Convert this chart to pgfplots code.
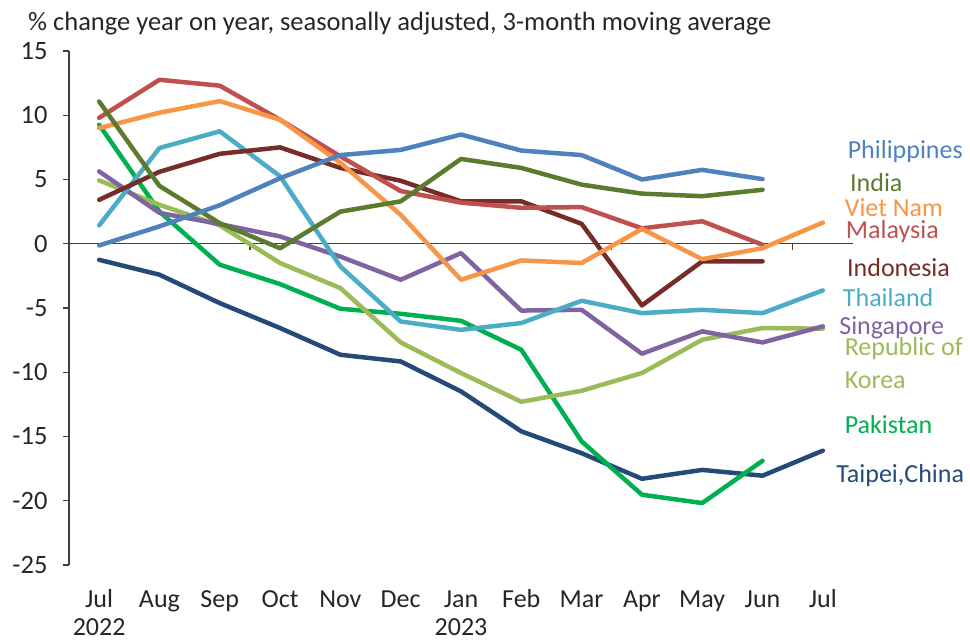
\documentclass[border=0pt]{standalone}
\usepackage{pgfplots}
\pgfplotsset{compat=1.18}
\usepackage{fontspec}
\setmainfont{Carlito}
\definecolor{cPhi}{HTML}{4F81BD}
\definecolor{cInd}{HTML}{5B7B2F}
\definecolor{cVie}{HTML}{F79646}
\definecolor{cMal}{HTML}{C0504D}
\definecolor{cIdn}{HTML}{772C2A}
\definecolor{cTha}{HTML}{4BACC6}
\definecolor{cSin}{HTML}{8064A2}
\definecolor{cKor}{HTML}{9BBB59}
\definecolor{cPak}{HTML}{00B050}
\definecolor{cTai}{HTML}{264A78}
\definecolor{txt}{HTML}{262626}
\newcommand{\fs}{\fontsize{26}{30}\selectfont}
\newcommand{\ft}{\fontsize{26.5}{30}\selectfont}
\begin{document}
\begin{tikzpicture}[x=1pt,y=1pt]
\useasboundingbox (0,0) rectangle (970,642);
\node[anchor=base west, inner sep=0pt, text=txt, font=\fontsize{26.5}{30}\selectfont] at (28,611) {\% change year on year, seasonally adjusted, 3-month moving average};
\begin{axis}[
  at={(69pt,77pt)}, anchor=south west,
  scale only axis, width=784pt, height=514pt,
  xmin=-0.5, xmax=12.5, ymin=-25, ymax=15,
  axis x line=middle, axis y line=left,
  axis line style={-, line width=1.2pt, draw=black!75},
  xtick={2.5,5.5,8.5,11.5}, xticklabels={},
  ytick={-25,-20,...,15},
  tick align=outside, major tick length=6pt,
  tick style={line width=1.2pt, draw=black!75},
  yticklabel style={font=\ft, text=txt, xshift=-12pt},
  /pgf/number format/assume math mode=true,
  clip=false,
  every axis plot/.append style={line width=4.5pt, line join=round, line cap=round, mark=none},
]
% Taipei,China
\addplot[cTai] coordinates {(0,-1.25)(1,-2.41)(2,-4.62)(3,-6.56)(4,-8.64)(5,-9.16)(6,-11.49)(7,-14.6)(8,-16.3)(9,-18.29)(10,-17.6)(11,-18.05)(12,-16.1)};
% Pakistan
\addplot[cPak] coordinates {(0,9.26)(1,2.5)(2,-1.63)(3,-3.14)(4,-5.06)(5,-5.45)(6,-6.0)(7,-8.25)(8,-15.38)(9,-19.53)(10,-20.18)(11,-16.89)};
% Republic of Korea
\addplot[cKor] coordinates {(0,4.93)(1,3.03)(2,1.43)(3,-1.5)(4,-3.45)(5,-7.68)(6,-10.06)(7,-12.3)(8,-11.44)(9,-10.06)(10,-7.47)(11,-6.56)(12,-6.61)};
% Singapore
\addplot[cSin] coordinates {(0,5.63)(1,2.4)(2,1.53)(3,0.57)(4,-1.0)(5,-2.8)(6,-0.73)(7,-5.2)(8,-5.14)(9,-8.56)(10,-6.82)(11,-7.68)(12,-6.43)};
% Thailand
\addplot[cTha] coordinates {(0,1.43)(1,7.45)(2,8.75)(3,5.25)(4,-1.77)(5,-6.05)(6,-6.7)(7,-6.17)(8,-4.44)(9,-5.4)(10,-5.14)(11,-5.4)(12,-3.63)};
% Indonesia
\addplot[cIdn] coordinates {(0,3.42)(1,5.6)(2,7.0)(3,7.5)(4,5.9)(5,4.9)(6,3.3)(7,3.3)(8,1.55)(9,-4.8)(10,-1.37)(11,-1.37)};
% Malaysia
\addplot[cMal] coordinates {(0,9.8)(1,12.76)(2,12.3)(3,9.65)(4,6.8)(5,4.1)(6,3.2)(7,2.8)(8,2.85)(9,1.2)(10,1.75)(11,-0.08)};
% Viet Nam
\addplot[cVie] coordinates {(0,9.0)(1,10.2)(2,11.1)(3,9.65)(4,6.3)(5,2.25)(6,-2.8)(7,-1.3)(8,-1.5)(9,1.15)(10,-1.2)(11,-0.35)(12,1.65)};
% India
\addplot[cInd] coordinates {(0,11.07)(1,4.5)(2,1.6)(3,-0.35)(4,2.5)(5,3.3)(6,6.6)(7,5.9)(8,4.6)(9,3.9)(10,3.7)(11,4.2)};
% Philippines
\addplot[cPhi] coordinates {(0,-0.13)(1,1.35)(2,3.0)(3,5.1)(4,6.9)(5,7.3)(6,8.5)(7,7.25)(8,6.9)(9,5.0)(10,5.75)(11,5.03)};
% month labels
\foreach \m [count=\i from 0] in {Jul,Aug,Sep,Oct,Nov,Dec,Jan,Feb,Mar,Apr,May,Jun,Jul}{
  \edef\tmp{\noexpand\node[anchor=base, inner sep=0pt, text=txt, font=\noexpand\fs] at (axis cs:\i,-25) [yshift=-43pt] {\m};}\tmp
}
\node[anchor=base, inner sep=0pt, text=txt, font=\fs] at (axis cs:0,-25) [yshift=-71pt] {2022};
\node[anchor=base, inner sep=0pt, text=txt, font=\fs] at (axis cs:6,-25) [yshift=-71pt] {2023};
% series labels
\begin{scope}[every node/.style={anchor=west, inner sep=0pt, font=\fs}]
\node[text=cPhi] at (axis cs:12.41,7.16) {Philippines};
\node[text=cInd] at (axis cs:12.45,4.75) {India};
\node[text=cVie] at (axis cs:12.36,2.8) {Viet Nam};
\node[text=cMal] at (axis cs:12.38,0.93) {Malaysia};
\node[text=cIdn] at (axis cs:12.40,-1.87) {Indonesia};
\node[text=cTha] at (axis cs:12.33,-4.2) {Thailand};
\node[text=cSin] at (axis cs:12.27,-6.54) {Singapore};
\node[text=cKor] at (axis cs:12.36,-8.17) {Republic of};
\node[text=cKor] at (axis cs:12.36,-10.66) {Korea};
\node[text=cPak] at (axis cs:12.36,-14.09) {Pakistan};
\node[text=cTai] at (axis cs:12.22,-18.05) {Taipei,China};
\end{scope}
\end{axis}
\end{tikzpicture}
\end{document}
